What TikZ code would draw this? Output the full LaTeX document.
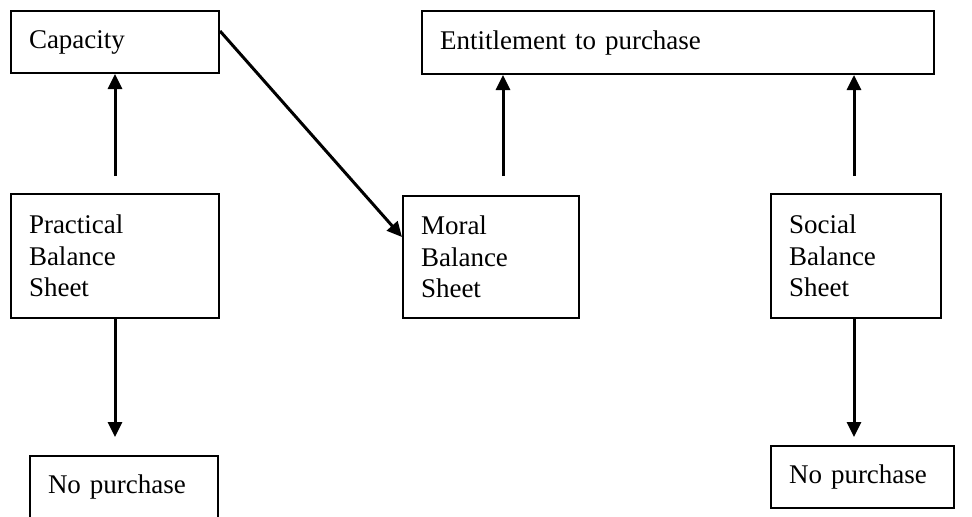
\documentclass[tikz,border=0pt]{standalone}
\usepackage{fontspec}
\setmainfont{Liberation Serif}
\usepackage{tikz}
\usetikzlibrary{arrows.meta,positioning}

\begin{document}
\begin{tikzpicture}[x=0.5pt,y=-0.5pt,->,>={Triangle[length=7.5pt,width=7pt]},line width=1.5pt,
  sheet/.style={draw,line width=1pt,anchor=north west,align=left,inner xsep=9pt,inner ysep=0pt,
    font=\fontsize{13.5}{15.75}\selectfont}]
  \useasboundingbox (0,0) rectangle (972,516);

  \node [sheet,text width=86pt,minimum height=31pt] (cap) at (10,10) {Capacity};
  \node [sheet,text width=238pt,minimum height=31.5pt] (ent) at (421,10) {Entitlement to purchase};
  \node [sheet,text width=86pt,minimum height=62pt] (prac) at (10,193) {Practical\\Balance\\Sheet};
  \node [sheet,text width=70pt,minimum height=61pt] (moral) at (402,195) {Moral\\Balance\\Sheet};
  \node [sheet,text width=67pt,minimum height=62pt] (social) at (770,193) {Social\\Balance\\Sheet};
  \node [sheet,text width=76pt,minimum height=31pt] (np1) at (29,455) {No purchase};
  \node [sheet,text width=73.5pt,minimum height=31pt] (np2) at (770,445) {No purchase};

  \coordinate [above=8.5pt of prac.north] (p0);
  \coordinate [above=9.5pt of moral.north,xshift=6pt] (m0);
  \coordinate [above=8.5pt of social.north,xshift=-1pt] (s0);

  \draw (p0) -- (cap.south);
  \draw ([yshift=5.5pt]cap.east) -- ([yshift=10pt]moral.west);
  \draw (m0) -- (m0 |- ent.south);
  \draw (s0) -- (s0 |- ent.south);
  \draw [shorten >=9pt] (prac.south) -- (prac.south |- np1.north);
  \draw [shorten >=4pt] ([xshift=-1pt]social.south) -- ([xshift=-1pt]social.south |- np2.north);
\end{tikzpicture}
\end{document}
